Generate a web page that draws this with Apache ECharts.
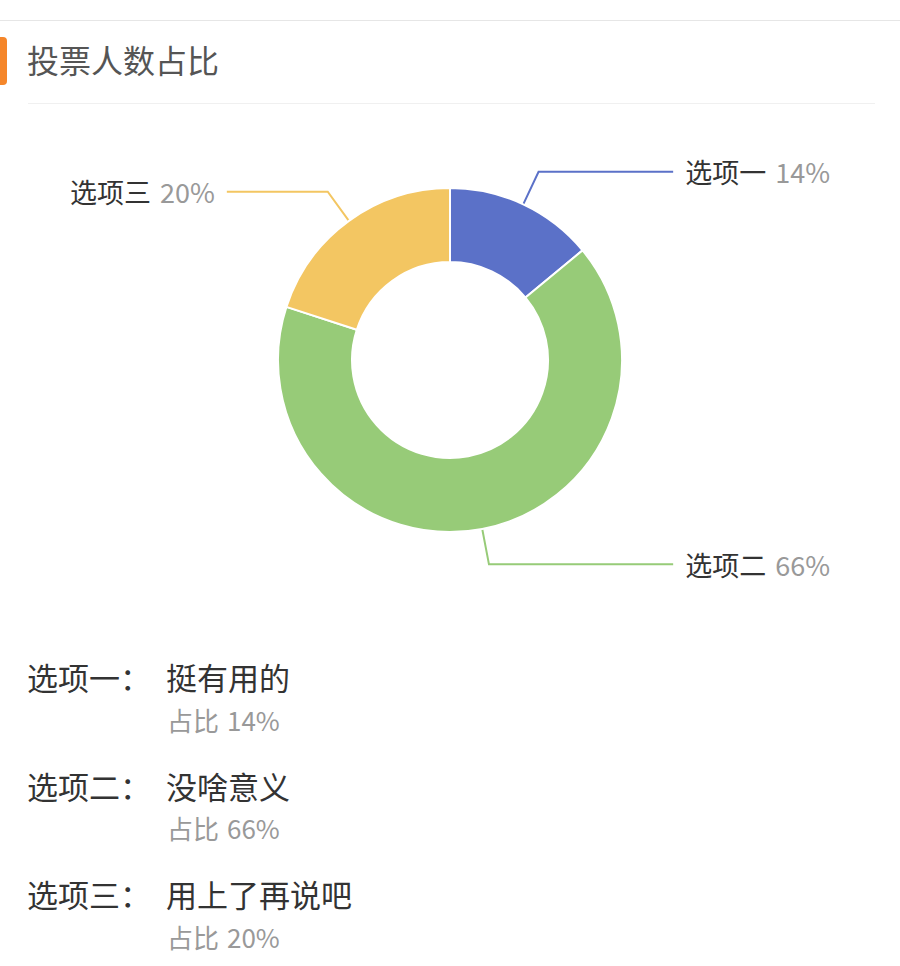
<!DOCTYPE html>
<html>
<head>
<meta charset="utf-8">
<script src="https://cdn.jsdelivr.net/npm/echarts@6/dist/echarts.min.js"></script>
<style>
html,body{margin:0;padding:0;background:#fff;}
#main{width:900px;height:966px;}
</style>
</head>
<body>
<div id="main"></div>
<script>
const titleText = '投票人数占比';
const categories = ['选项一', '选项二', '选项三'];
const values = [14, 66, 20];
const descriptions = ['挺有用的', '没啥意义', '用上了再说吧'];
const colors = ['#5b71c8', '#97cb78', '#f3c662'];

const FONT = '"Noto Sans CJK SC", "Noto Sans", sans-serif';
const chart = echarts.init(document.getElementById('main'), null, {renderer: 'svg'});

const graphics = [
  {type: 'rect', shape: {x: 0, y: 20, width: 900, height: 1}, style: {fill: '#e6e6e6'}},
  {type: 'rect', shape: {x: -6, y: 37, width: 13, height: 48, r: 4}, style: {fill: '#f5862a'}},
  {type: 'text', left: 27, top: 43, style: {text: titleText, font: '32px ' + FONT, fill: '#555'}},
  {type: 'rect', shape: {x: 28, y: 103, width: 847, height: 1}, style: {fill: '#f0f0f0'}}
];
categories.forEach(function (c, i) {
  const y0 = 680 + i * 108.5;
  graphics.push({type: 'text', left: 27, top: y0 - 19, style: {text: c + '：', font: '31px ' + FONT, fill: '#333'}});
  graphics.push({type: 'text', left: 166, top: y0 - 19, style: {text: descriptions[i], font: '31px ' + FONT, fill: '#333'}});
  graphics.push({type: 'text', left: 167, top: y0 + 26, style: {
    text: '{a|占比}{b|' + values[i] + '%}',
    rich: {
      a: {font: '26px ' + FONT, fill: '#999', fontSize: 26, fontFamily: FONT, color: '#999'},
      b: {font: '26px ' + FONT, fill: '#999', fontSize: 26, fontFamily: FONT, color: '#999', padding: [0, 0, 0, 8]}
    }
  }});
});

chart.setOption({
  animation: false,
  color: colors,
  graphic: graphics,
  series: [{
    type: 'pie',
    center: [450, 360],
    radius: [98, 172],
    startAngle: 90,
    clockwise: true,
    avoidLabelOverlap: true,
    itemStyle: {borderColor: '#fff', borderWidth: 2},
    label: {
      show: true,
      alignTo: 'edge',
      edgeDistance: 70,
      distanceToLabelLine: 12,
      formatter: '{n|{b}}{p|{d}%}',
      rich: {
        n: {fontSize: 27, color: '#333', fontFamily: FONT},
        p: {fontSize: 27, color: '#999', fontFamily: FONT, padding: [0, 0, 0, 9]}
      }
    },
    labelLine: {show: true, length: 36, length2: 20, lineStyle: {width: 2}},
    data: categories.map(function (c, i) { return {name: c, value: values[i]}; })
  }]
});
</script>
</body>
</html>
